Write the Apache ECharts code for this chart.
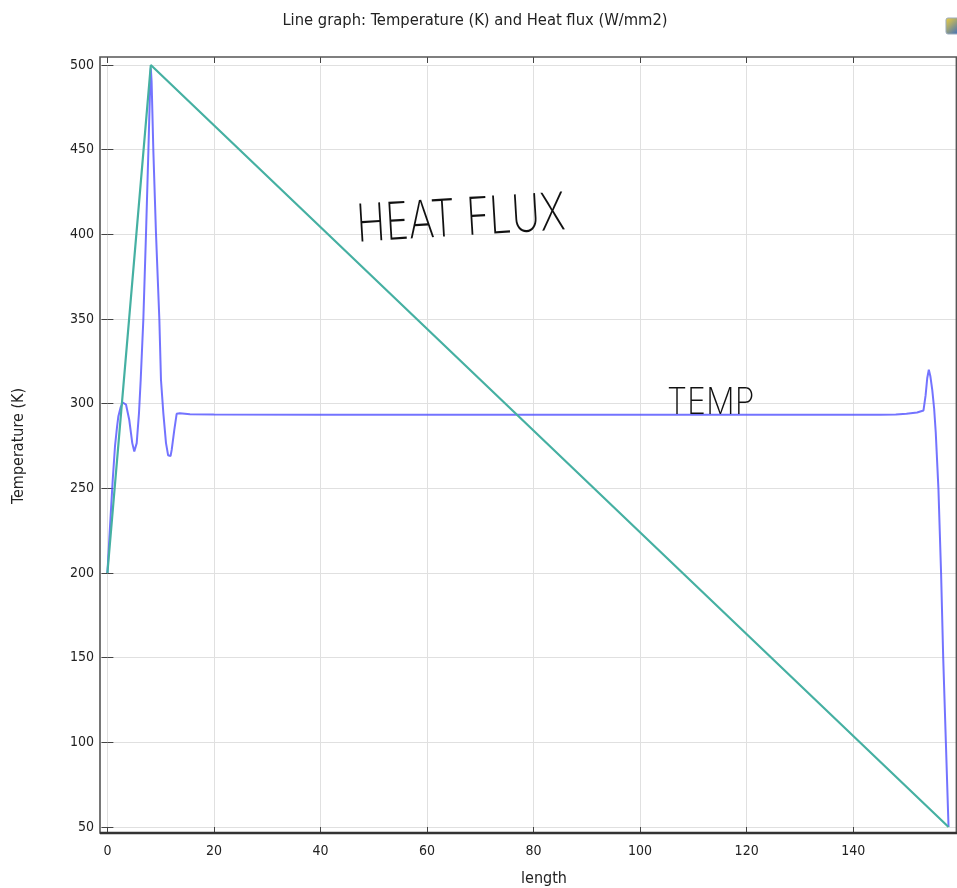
<!DOCTYPE html>
<html><head><meta charset="utf-8">
<script src="https://cdn.jsdelivr.net/npm/echarts@6/dist/echarts.min.js"></script>
<style>html,body{margin:0;padding:0;background:#fff;overflow:hidden}#c{width:957px;height:888px}</style>
</head><body><div id="c"></div>
<script>
// ---- data ----
const chartTitle = 'Line graph: Temperature (K) and Heat flux (W/mm2)';
const xAxisName = 'length';
const yAxisName = 'Temperature (K)';
const xTickValues = [0, 20, 40, 60, 80, 100, 120, 140];
const yTickValues = [50, 100, 150, 200, 250, 300, 350, 400, 450, 500];

const heatFluxX = [0, 8.15, 157.9];
const heatFluxY = [200, 500, 50];

const tempX = [0, 0.5, 1.0, 1.43, 1.8, 2.05, 2.5, 2.87, 3.2, 3.5, 4.1, 4.67, 5.05, 5.3, 5.5, 5.93, 6.25, 6.75, 7.25, 7.7, 8.0, 8.15, 8.3, 8.62, 9.12, 9.75, 10.06, 10.5, 11.0, 11.4, 11.62, 11.85, 12.07, 12.56, 13.0, 13.6, 15.5, 20, 40, 60, 80, 100, 120, 140, 145, 148, 150, 152, 153.2, 153.6, 153.9, 154.2, 154.5, 154.85, 155.2, 155.5, 156.0, 156.5, 156.9, 157.4, 157.9];
const tempY = [200, 228, 255, 275, 286, 292.4, 298, 300.7, 301, 299.4, 290.5, 276.7, 271.8, 272.5, 276.7, 294.4, 314, 350, 400.6, 450, 485, 498, 490, 450, 400.6, 350, 314, 294.4, 276.7, 269.5, 268.4, 269, 272.7, 284.5, 294, 294.4, 293.8, 293.6, 293.5, 293.5, 293.5, 293.5, 293.5, 293.5, 293.5, 293.6, 294.0, 294.8, 296, 305, 315, 320, 316, 308, 297, 283, 250, 200, 150, 100, 50];

const annotationHeat = 'HEAT FLUX';
const annotationTemp = 'TEMP';

// ---- chart ----
const FONT = '"DejaVu Sans Condensed", "DejaVu Sans", sans-serif';
const HAND = 'Inter, "DejaVu Sans", sans-serif';
const heatData = heatFluxX.map((x, i) => [x, heatFluxY[i]]);
const tempData = tempX.map((x, i) => [x, tempY[i]]);

const chart = echarts.init(document.getElementById('c'), null, {renderer: 'canvas'});
const X0 = 107.4, PXU = 5.327, XMAX = 159.4;
const tickStyle = {show: true, inside: true, length: 6, lineStyle: {color: '#444', width: 1}};
chart.setOption({
  animation: false,
  backgroundColor: '#fff',
  title: {
    text: chartTitle, left: 470, textAlign: 'center', top: 8,
    textStyle: {fontSize: 16.4, fontWeight: 'normal', color: '#222', fontFamily: FONT}
  },
  grid: [{left: X0, top: 65, width: XMAX * PXU, height: 762, containLabel: false, outerBoundsMode: 'none'}],
  xAxis: [{
    type: 'value', min: 0, max: XMAX, interval: 20, position: 'bottom', offset: 6,
    axisLine: {show: false}, axisTick: tickStyle,
    axisLabel: {showMaxLabel: false, margin: 11, fontSize: 14, color: '#222', fontFamily: FONT},
    splitLine: {show: true, lineStyle: {color: '#e0e0e0', width: 1}},
    name: xAxisName, nameLocation: 'middle', nameGap: 38,
    nameTextStyle: {fontSize: 16, color: '#222', fontFamily: FONT, padding: [0, 0, 0, 24]}
  }, {
    type: 'value', min: 0, max: XMAX, interval: 20, position: 'top', offset: 8,
    axisLine: {show: false}, axisTick: tickStyle, axisLabel: {show: false}, splitLine: {show: false}
  }],
  yAxis: [{
    type: 'value', min: 50, max: 500, interval: 50, position: 'left', offset: 7.4,
    axisLine: {show: false}, axisTick: tickStyle,
    axisLabel: {margin: 6, fontSize: 14, color: '#222', fontFamily: FONT},
    splitLine: {show: true, lineStyle: {color: '#e0e0e0', width: 1}},
    name: yAxisName, nameLocation: 'middle', nameGap: 73, nameRotate: 90,
    nameTextStyle: {fontSize: 16, color: '#222', fontFamily: FONT}
  }, {
    type: 'value', min: 50, max: 500, interval: 50, position: 'right', offset: 0,
    axisLine: {show: false}, axisTick: tickStyle, axisLabel: {show: false}, splitLine: {show: false}
  }],
  series: [{
    name: 'Temperature', type: 'line', xAxisIndex: 0, yAxisIndex: 0, data: tempData,
    showSymbol: false, smooth: false,
    lineStyle: {color: 'rgba(80,80,255,0.8)', width: 2}, z: 3
  }, {
    name: 'Heat flux', type: 'line', xAxisIndex: 0, yAxisIndex: 0, data: heatData,
    showSymbol: false,
    lineStyle: {color: '#45b0a2', width: 2.2}, z: 4
  }],
  graphic: [
    {type: 'rect', shape: {x: 100, y: 57, width: 856.4, height: 776}, style: {fill: 'none', stroke: '#555', lineWidth: 1.6}, z: 10, silent: true},
    {type: 'line', shape: {x1: 100, y1: 833, x2: 957, y2: 833}, style: {stroke: '#333', lineWidth: 2.5}, z: 11, silent: true},
    {type: 'text', x: 355, y: 200, rotation: 0.06, scaleX: 1.09, scaleY: 1.45,
     style: {text: annotationHeat, font: '200 36px ' + HAND, fill: '#111'}, z: 12},
    {type: 'text', x: 667, y: 385, rotation: 0.0, scaleY: 1.15,
     style: {text: annotationTemp, font: '200 32px ' + HAND, fill: '#111'}, z: 12},
    {type: 'rect', shape: {x: 946, y: 18, width: 14, height: 16, r: 2},
     style: {fill: new echarts.graphic.LinearGradient(0, 0, 1, 1, [{offset: 0, color: '#f3d23a'}, {offset: 1, color: '#2f66c8'}]), stroke: '#9ab', lineWidth: 1}, z: 12}
  ]
});
</script></body></html>
